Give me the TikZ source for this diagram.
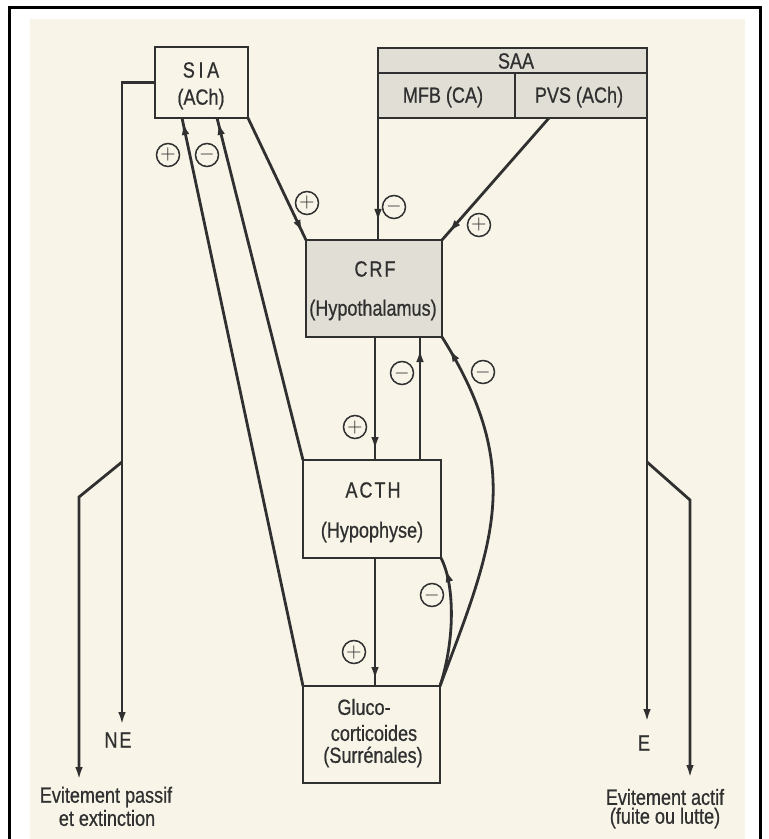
\documentclass[tikz,border=0pt]{standalone}
\usepackage{fontspec}
\newfontfamily\condfam{Liberation Sans}[FakeStretch=0.82,FakeBold=0.7]
\usetikzlibrary{arrows.meta,decorations.markings}
\definecolor{paper}{RGB}{248,245,232}
\definecolor{ink}{RGB}{48,48,48}
\definecolor{shadefill}{RGB}{224,222,213}
\tikzset{
  box/.style={draw=ink, line width=1.4pt, inner sep=0pt, outer sep=0pt, anchor=north west},
  shaded/.style={box, fill=shadefill},
  lbl/.style={font=\condfam\fontsize{11}{13}\selectfont, text=ink, inner sep=0pt},
  conn/.style={draw=ink, line width=1.4pt},
  endtip/.style={-{Latex[length=6.5pt,width=3.8pt]}},
  tipat/.style={postaction={decorate},
     decoration={markings, mark=at position #1 with {\arrow{Latex[length=6.5pt,width=3.8pt]}}}},
  sgn/.style={circle, draw=ink, line width=0.75pt, minimum size=11.5pt, inner sep=0pt, fill=paper, text=ink}
}
\begin{document}
\begin{tikzpicture}[x=0.5pt,y=-0.5pt]
\useasboundingbox (0,0) rectangle (768,839);
\fill[white] (0,0) rectangle (768,839);
\fill[paper] (30,19) rectangle (745,839);
\draw[black, line width=1.5pt] (9,839) -- (9,8) -- (760,8) -- (760,839);

% boxes
\node[box, minimum width=46.5pt, minimum height=35.5pt] (sia) at (155,47) {};
\node[shaded, minimum width=134.5pt, minimum height=12.5pt] (saa) at (378,48) {};
\node[shaded, minimum width=68.5pt, minimum height=22.5pt] (mfb) at (378,73) {};
\node[shaded, minimum width=66pt, minimum height=22.5pt] (pvs) at (515,73) {};
\node[shaded, minimum width=68pt, minimum height=48.5pt] (crf) at (306,240) {};
\node[box, minimum width=69pt, minimum height=49pt] (acth) at (303,460) {};
\node[box, minimum width=68.5pt, minimum height=48.5pt] (gluco) at (303,686) {};

% box texts
\node[lbl] (siaA) at (201,70) {S\,I\,A};
\node[lbl] (siaB) at (201,99) {(ACh)};
\node[lbl] (saaT) at (516,61) {SAA};
\node[lbl] (mfbT) at (443,97) {MFB (CA)};
\node[lbl] (pvsT) at (579,97) {PVS (ACh)};
\node[lbl] (crfA) at (375,269) {C\kern1pt R\kern1pt F};
\node[lbl] (crfB) at (373,310) {(Hypothalamus)};
\node[lbl] (acthA) at (373,490) {A\kern1pt C\kern1pt T\kern1pt H};
\node[lbl] (acthB) at (372,532) {(Hypophyse)};
\node[lbl] (glA) at (364,707) {Gluco-};
\node[lbl] (glB) at (374,733) {corticoides};
\node[lbl] (glC) at (373,757) {(Surrénales)};

% helper coordinates
\coordinate (xa) at (182,0);
\coordinate (xb) at (217,0);
\coordinate (xc) at (549,0);
\coordinate (xd) at (375,0);
\coordinate (xe) at (420,0);
\coordinate (ne) at (122,725);
\coordinate (lsplit) at (122,462);
\coordinate (lbend) at (79,497);
\coordinate (lend) at (79,780);
\coordinate (eend) at (647,722);
\coordinate (rsplit) at (647,462);
\coordinate (rbend) at (690,500);
\coordinate (rend) at (690,778);

% connectors
\draw[conn, tipat=-2pt] (gluco.north west) -- (sia.south -| xa);
\draw[conn, tipat=-2pt] (acth.north west) -- (sia.south -| xb);
\draw[conn, tipat=-4pt] (sia.south east) -- (crf.north west);
\draw[conn, tipat=-9pt] (mfb.south west) -- (mfb.south west |- crf.north);
\draw[conn, tipat=-5pt] (pvs.south -| xc) -- (crf.north east);
\draw[conn, tipat=-5pt] (crf.south -| xd) -- (acth.north -| xd);
\draw[conn, tipat=-6pt] (acth.north -| xe) -- (crf.south -| xe);
\draw[conn, tipat=-3pt] (acth.south -| xd) -- (gluco.north -| xd);
\draw[conn, tipat=-6pt] (gluco.north east) .. controls (455,640) and (455,585) .. (acth.south east);
\draw[conn, tipat=-7pt] (gluco.north east) .. controls (493,545) and (526,471) .. (crf.south east);

\draw[conn, endtip] (sia.west) -| (ne);
\draw[conn, endtip] (lsplit) -- (lbend) -- (lend);
\draw[conn, endtip] (pvs.south east) -- (eend);
\draw[conn, endtip] (rsplit) -- (rbend) -- (rend);

% signs
\node[sgn] (s1) at (168,155) {$+$};
\node[sgn] (s2) at (207,155) {$-$};
\node[sgn] (s3) at (307,203) {$+$};
\node[sgn] (s4) at (394,207) {$-$};
\node[sgn] (s5) at (479,225) {$+$};
\node[sgn] (s6) at (402,373) {$-$};
\node[sgn] (s7) at (483,372) {$-$};
\node[sgn] (s8) at (355,427) {$+$};
\node[sgn] (s9) at (432,595) {$-$};
\node[sgn] (s10) at (354,652) {$+$};

% outside labels
\node[lbl] (neT) at (118,740) {N\kern1pt E};
\node[lbl] (eT) at (644,743) {E};
\node[lbl] (lpA) at (106,797) {Evitement passif};
\node[lbl] (lpB) at (107,818) {et extinction};
\node[lbl] (raA) at (665,797) {Evitement actif};
\node[lbl] (raB) at (665,818) {(fuite ou lutte)};
\end{tikzpicture}
\end{document}
